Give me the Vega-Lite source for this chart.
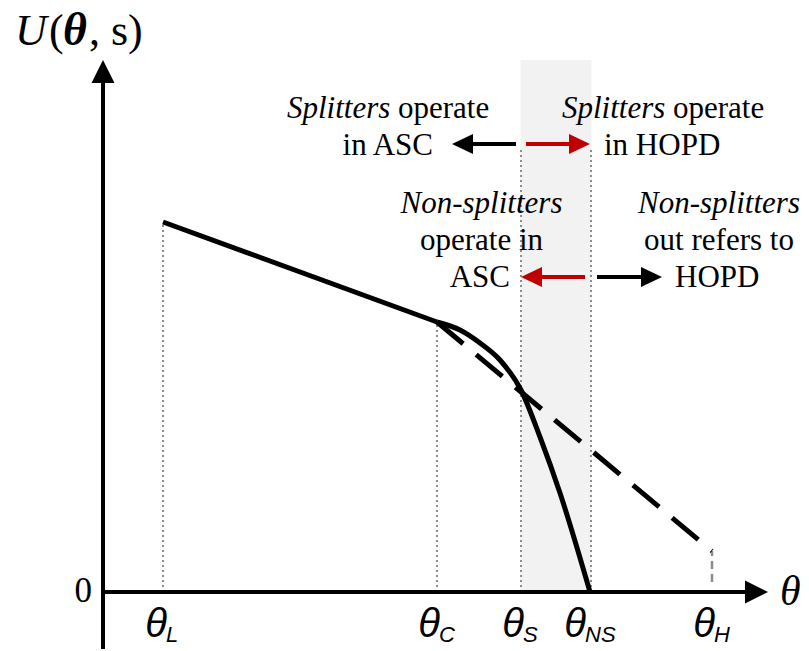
{
  "$schema": "https://vega.github.io/schema/vega-lite/v6.json",
  "width": 809,
  "height": 651,
  "autosize": {"type": "fit", "contains": "padding"},
  "padding": 0,
  "background": "white",
  "config": {"view": {"stroke": null}, "axis": {"disable": true}},
  "encoding": {
    "x": {"field": "x", "type": "quantitative", "scale": {"domain": [-103, 706], "nice": false, "zero": false}, "axis": null},
    "y": {"field": "y", "type": "quantitative", "scale": {"domain": [-59, 592], "nice": false, "zero": false}, "axis": null}
  },
  "layer": [
    {
      "data": {"values": [{"x": 417.5, "x2": 488.5, "y": 0, "y2": 532}]},
      "mark": {"type": "rect", "color": "#f2f2f2"},
      "encoding": {"x2": {"field": "x2"}, "y2": {"field": "y2"}}
    },
    {
      "data": {"values": [
        {"x": 60, "y": 0, "y2": 370},
        {"x": 334, "y": 0, "y2": 270},
        {"x": 418, "y": 0, "y2": 444},
        {"x": 488, "y": 0, "y2": 444}
      ]},
      "mark": {"type": "rule", "color": "#8c8c8c", "strokeWidth": 2, "strokeDash": [2, 3]},
      "encoding": {"y2": {"field": "y2"}}
    },
    {
      "data": {"values": [{"x": 609, "y": 10, "y2": 41}]},
      "mark": {"type": "rule", "color": "#8c8c8c", "strokeWidth": 2.5, "strokeDash": [8, 5]},
      "encoding": {"y2": {"field": "y2"}}
    },
    {
      "data": {"values": [
        {"x": 0, "y": -57, "x2": 0, "y2": 512},
        {"x": 0, "y": 0, "x2": 645, "y2": 0}
      ]},
      "mark": {"type": "rule", "color": "black", "strokeWidth": 4},
      "encoding": {"x2": {"field": "x2"}, "y2": {"field": "y2"}}
    },
    {
      "data": {"values": [{"x": 0, "y": 532}]},
      "mark": {"type": "point", "shape": "M0,0L-1,2L1,2Z", "filled": true, "size": 529, "color": "black", "opacity": 1, "strokeWidth": 0}
    },
    {
      "data": {"values": [{"x": 665, "y": 0}]},
      "mark": {"type": "point", "shape": "M0,0L-2,-1L-2,1Z", "filled": true, "size": 529, "color": "black", "opacity": 1, "strokeWidth": 0}
    },
    {
      "data": {"values": [
        {"x": 413, "x2": 368, "y": 448, "y2": 448, "emphasis": "no"},
        {"x": 423, "x2": 468, "y": 448, "y2": 448, "emphasis": "yes"},
        {"x": 482, "x2": 437, "y": 315, "y2": 315, "emphasis": "yes"},
        {"x": 494, "x2": 540, "y": 315, "y2": 315, "emphasis": "no"}
      ]},
      "mark": {"type": "rule", "strokeWidth": 4},
      "encoding": {
        "x2": {"field": "x2"}, "y2": {"field": "y2"},
        "color": {"field": "emphasis", "type": "nominal", "scale": {"domain": ["no", "yes"], "range": ["#000000", "#c00000"]}, "legend": null}
      }
    },
    {
      "data": {"values": [
        {"x": 349, "y": 448, "emphasis": "no"},
        {"x": 418, "y": 315, "emphasis": "yes"}
      ]},
      "mark": {"type": "point", "shape": "M0,0L2,-0.95L2,0.95Z", "filled": true, "size": 441, "opacity": 1, "strokeWidth": 0},
      "encoding": {
        "color": {"field": "emphasis", "type": "nominal", "scale": {"domain": ["no", "yes"], "range": ["#000000", "#c00000"]}, "legend": null}
      }
    },
    {
      "data": {"values": [
        {"x": 487, "y": 448, "emphasis": "yes"},
        {"x": 559, "y": 315, "emphasis": "no"}
      ]},
      "mark": {"type": "point", "shape": "M0,0L-2,-0.95L-2,0.95Z", "filled": true, "size": 441, "opacity": 1, "strokeWidth": 0},
      "encoding": {
        "color": {"field": "emphasis", "type": "nominal", "scale": {"domain": ["no", "yes"], "range": ["#000000", "#c00000"]}, "legend": null}
      }
    },
    {
      "data": {"values": [{"x": 60, "y": 370}, {"x": 334, "y": 270}]},
      "mark": {"type": "line", "color": "black", "strokeWidth": 5}
    },
    {
      "data": {"values": [
        {"x": 334, "y": 270}, {"x": 357, "y": 262}, {"x": 377, "y": 249}, {"x": 397, "y": 232},
        {"x": 418, "y": 202}, {"x": 437, "y": 155}, {"x": 457, "y": 99}, {"x": 487, "y": 0}
      ]},
      "mark": {"type": "line", "color": "black", "strokeWidth": 5, "interpolate": "monotone"}
    },
    {
      "data": {"values": [{"x": 334, "y": 270}, {"x": 609, "y": 41}]},
      "mark": {"type": "line", "color": "black", "strokeWidth": 5, "strokeDash": [34, 17]}
    },
    {
      "data": {"values": [
        {"x": 184, "y": 474, "label": "Splitters"},
        {"x": 459, "y": 474, "label": "Splitters"}
      ]},
      "mark": {"type": "text", "font": "Liberation Serif", "fontSize": 31, "fontStyle": "italic", "align": "left", "baseline": "alphabetic", "color": "black"},
      "encoding": {"text": {"field": "label"}}
    },
    {
      "data": {"values": [
        {"x": 295, "y": 474, "label": "operate"},
        {"x": 570, "y": 474, "label": "operate"},
        {"x": 501, "y": 437, "label": "in HOPD"},
        {"x": 572, "y": 305, "label": "HOPD"}
      ]},
      "mark": {"type": "text", "font": "Liberation Serif", "fontSize": 31, "align": "left", "baseline": "alphabetic", "color": "black"},
      "encoding": {"text": {"field": "label"}}
    },
    {
      "data": {"values": [
        {"x": 330, "y": 437, "label": "in ASC"},
        {"x": 407, "y": 305, "label": "ASC"}
      ]},
      "mark": {"type": "text", "font": "Liberation Serif", "fontSize": 31, "align": "right", "baseline": "alphabetic", "color": "black"},
      "encoding": {"text": {"field": "label"}}
    },
    {
      "data": {"values": [
        {"x": 378.5, "y": 379, "label": "Non-splitters"},
        {"x": 616, "y": 379, "label": "Non-splitters"}
      ]},
      "mark": {"type": "text", "font": "Liberation Serif", "fontSize": 31, "fontStyle": "italic", "align": "center", "baseline": "alphabetic", "color": "black"},
      "encoding": {"text": {"field": "label"}}
    },
    {
      "data": {"values": [
        {"x": 378.5, "y": 342, "label": "operate in"},
        {"x": 616, "y": 342, "label": "out refers to"}
      ]},
      "mark": {"type": "text", "font": "Liberation Serif", "fontSize": 31, "align": "center", "baseline": "alphabetic", "color": "black"},
      "encoding": {"text": {"field": "label"}}
    },
    {
      "data": {"values": [
        {"x": 64, "y": -45, "label": "θ"},
        {"x": 337, "y": -45, "label": "θ"},
        {"x": 421, "y": -45, "label": "θ"},
        {"x": 483, "y": -45, "label": "θ"},
        {"x": 612, "y": -45, "label": "θ"}
      ]},
      "mark": {"type": "text", "font": "Liberation Sans", "fontSize": 40, "fontStyle": "italic", "align": "right", "baseline": "alphabetic", "color": "black"},
      "encoding": {"text": {"field": "label"}}
    },
    {
      "data": {"values": [
        {"x": 63, "y": -50, "label": "L"},
        {"x": 336, "y": -50, "label": "C"},
        {"x": 420, "y": -50, "label": "S"},
        {"x": 482, "y": -50, "label": "NS"},
        {"x": 611, "y": -50, "label": "H"}
      ]},
      "mark": {"type": "text", "font": "Liberation Sans", "fontSize": 22, "fontStyle": "italic", "align": "left", "baseline": "alphabetic", "color": "black"},
      "encoding": {"text": {"field": "label"}}
    },
    {
      "data": {"values": [{"x": 677, "y": -13, "label": "θ"}]},
      "mark": {"type": "text", "font": "Liberation Serif", "fontSize": 42, "fontStyle": "italic", "align": "left", "baseline": "alphabetic", "color": "black"},
      "encoding": {"text": {"field": "label"}}
    },
    {
      "data": {"values": [{"x": -11, "y": -10, "label": "0"}]},
      "mark": {"type": "text", "font": "Liberation Serif", "fontSize": 35, "align": "right", "baseline": "alphabetic", "color": "black"},
      "encoding": {"text": {"field": "label"}}
    },
    {
      "data": {"values": [{"x": -88, "y": 547, "label": "U"}]},
      "mark": {"type": "text", "font": "Liberation Serif", "fontSize": 44, "fontStyle": "italic", "align": "left", "baseline": "alphabetic", "color": "black"},
      "encoding": {"text": {"field": "label"}}
    },
    {
      "data": {"values": [{"x": -54, "y": 547, "label": "("}, {"x": -14, "y": 547, "label": ", s)"}]},
      "mark": {"type": "text", "font": "Liberation Serif", "fontSize": 44, "align": "left", "baseline": "alphabetic", "color": "black"},
      "encoding": {"text": {"field": "label"}}
    },
    {
      "data": {"values": [{"x": -40, "y": 547, "label": "θ"}]},
      "mark": {"type": "text", "font": "Liberation Serif", "fontSize": 46, "fontStyle": "italic", "fontWeight": "bold", "align": "left", "baseline": "alphabetic", "color": "black"},
      "encoding": {"text": {"field": "label"}}
    }
  ]
}
